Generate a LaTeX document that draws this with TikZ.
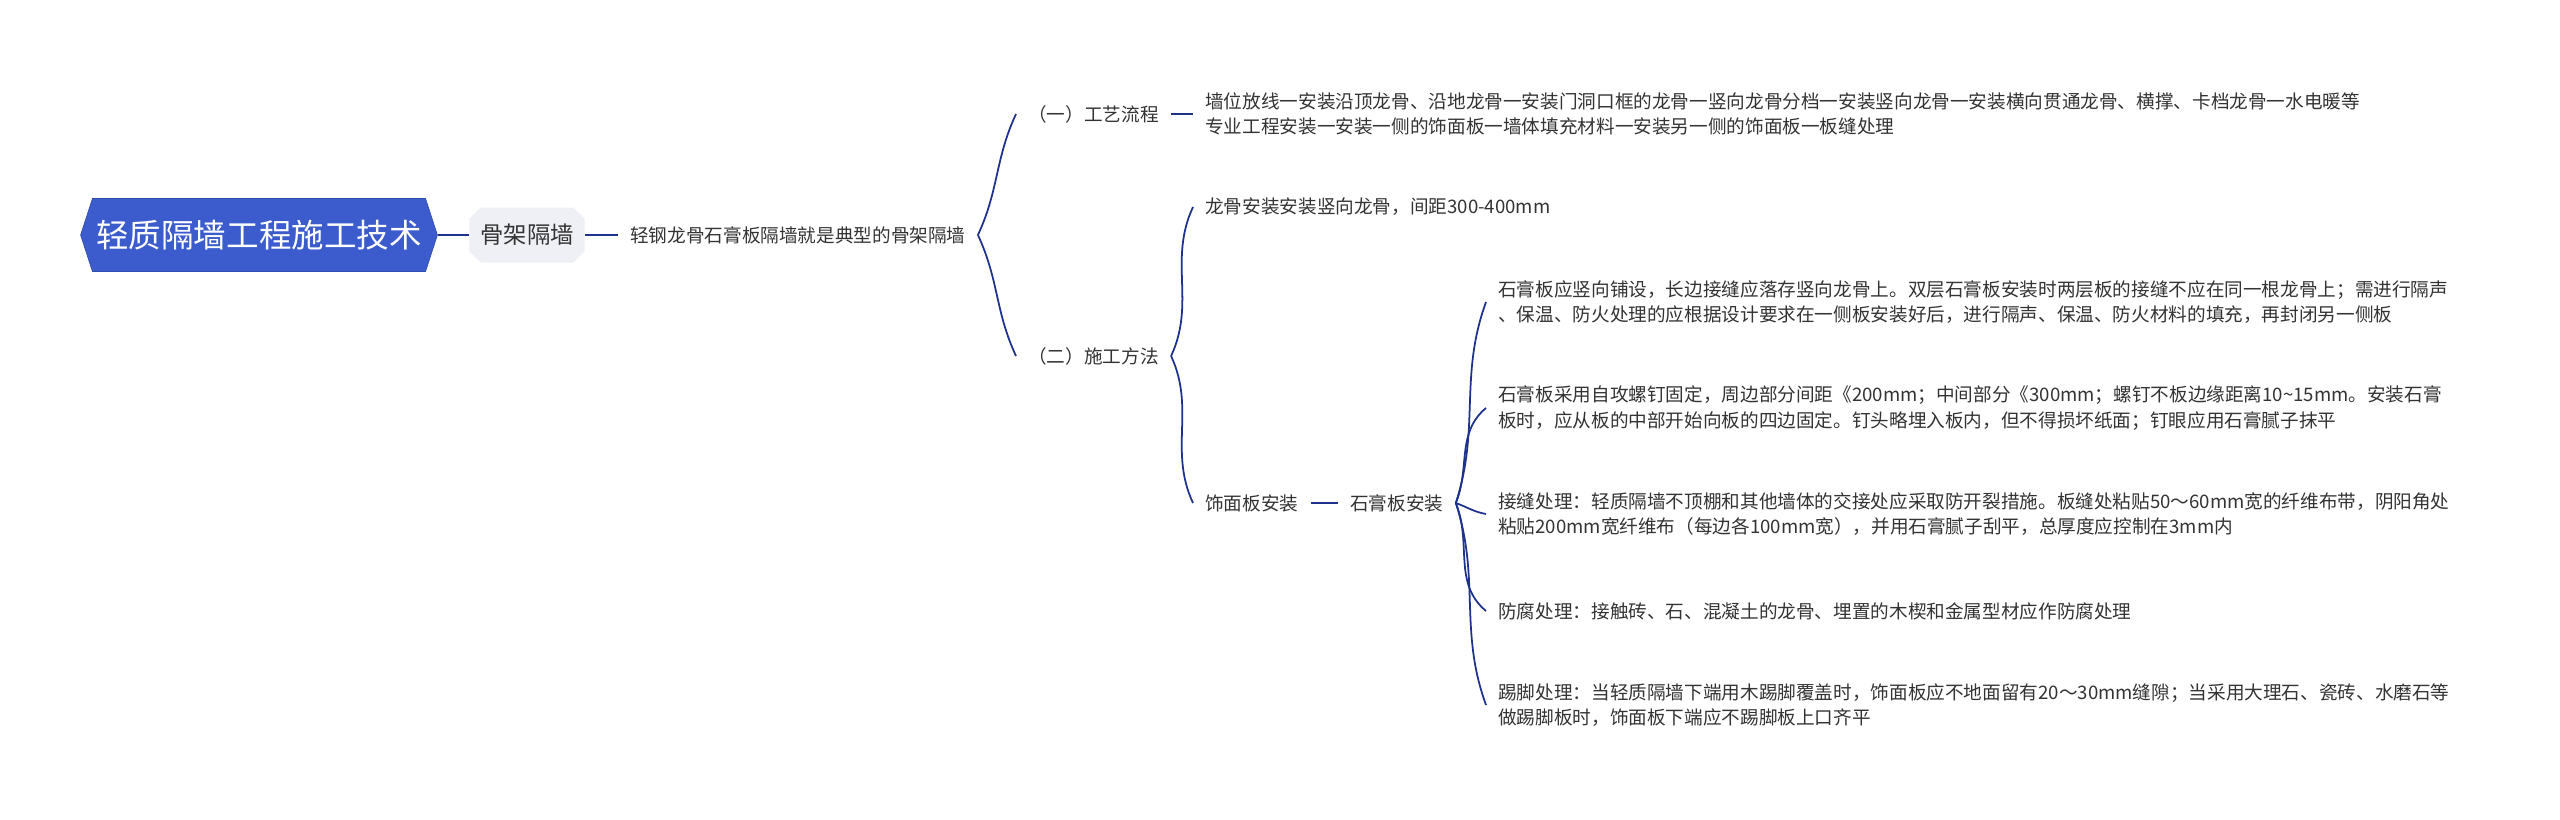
\documentclass[tikz,border=0pt]{standalone}
\usepackage{fontspec}
\setmainfont{Noto Sans CJK SC}
\usepackage{tikz}
\usetikzlibrary{shapes.symbols,shapes.misc}
\definecolor{rootblue}{RGB}{60,92,205}
\definecolor{linkblue}{RGB}{30,50,140}
\definecolor{topicgray}{RGB}{238,240,245}
\definecolor{txtgray}{RGB}{51,51,51}

\begin{document}
\begin{tikzpicture}[x=0.02cm, y=-0.02cm,
    link/.style={linkblue, line width=1pt},
    txt/.style={anchor=west, inner xsep=0.24cm, inner ysep=0.05cm, text=txtgray, align=left, font=\fontsize{10.6}{14.6}\selectfont}]
    \useasboundingbox (0,0) rectangle (2560,819);
    \node[signal, signal to=west and east, signal pointer angle=144, fill=rootblue, draw=rootblue!85!black, line width=0.4pt, text=white, minimum height=1.46cm, inner xsep=0.08cm, font=\fontsize{18.5}{22}\selectfont] (root) at (259,235) {轻质隔墙工程施工技术};
    \node[chamfered rectangle, chamfered rectangle xsep=0.1cm, fill=topicgray, text=txtgray, minimum height=1.1cm, inner xsep=0.12cm, font=\fontsize{13.3}{16}\selectfont] (gujia) at (527,235) {骨架隔墙};
    \node[txt] (desc) at (618,235) {轻钢龙骨石膏板隔墙就是典型的骨架隔墙};
    \node[txt] (gy) at (1016,114) {（一）工艺流程};
    \node[txt] (flow) at (1193,114) {墙位放线一安装沿顶龙骨、沿地龙骨一安装门洞口框的龙骨一竖向龙骨分档一安装竖向龙骨一安装横向贯通龙骨、横撑、卡档龙骨一水电暖等\\专业工程安装一安装一侧的饰面板一墙体填充材料一安装另一侧的饰面板一板缝处理};
    \node[txt] (sg) at (1016,356) {（二）施工方法};
    \node[txt] (lg) at (1193,207) {龙骨安装安装竖向龙骨，间距300-400mm};
    \node[txt] (sm) at (1193,503) {饰面板安装};
    \node[txt] (sgb) at (1338,503) {石膏板安装};
    \node[txt] (c1) at (1486,302) {石膏板应竖向铺设，长边接缝应落存竖向龙骨上。双层石膏板安装时两层板的接缝不应在同一根龙骨上；需进行隔声\\、保温、防火处理的应根据设计要求在一侧板安装好后，进行隔声、保温、防火材料的填充，再封闭另一侧板};
    \node[txt] (c2) at (1486,408) {石膏板采用自攻螺钉固定，周边部分间距《200mm；中间部分《300mm；螺钉不板边缘距离10\textasciitilde15mm。安装石膏\\板时，应从板的中部开始向板的四边固定。钉头略埋入板内，但不得损坏纸面；钉眼应用石膏腻子抹平};
    \node[txt] (c3) at (1486,514) {接缝处理：轻质隔墙不顶棚和其他墙体的交接处应采取防开裂措施。板缝处粘贴50～60mm宽的纤维布带，阴阳角处\\粘贴200mm宽纤维布（每边各100mm宽），并用石膏腻子刮平，总厚度应控制在3mm内};
    \node[txt] (c4) at (1486,611) {防腐处理：接触砖、石、混凝土的龙骨、埋置的木楔和金属型材应作防腐处理};
    \node[txt] (c5) at (1486,705) {踢脚处理：当轻质隔墙下端用木踢脚覆盖时，饰面板应不地面留有20～30mm缝隙；当采用大理石、瓷砖、水磨石等\\做踢脚板时，饰面板下端应不踢脚板上口齐平};
    \draw[link] (root.east) -- (gujia.west);
    \draw[link] (gujia.east) -- (desc.west);
    \draw[link] (desc.east) to[out=65,in=245] (gy.west);
    \draw[link] (desc.east) to[out=-65,in=115] (sg.west);
    \draw[link] (gy.east) -- (flow.west);
    \draw[link] (sg.east) to[out=65,in=245] (lg.west);
    \draw[link] (sg.east) to[out=-65,in=115] (sm.west);
    \draw[link] (sm.east) -- (sgb.west);
    \draw[link] (sgb.east) to[out=72,in=250] (c1.west);
    \draw[link] (sgb.east) to[out=68,in=220] (c2.west);
    \draw[link] (sgb.east) to[out=-20,in=170] (c3.west);
    \draw[link] (sgb.east) to[out=-68,in=140] (c4.west);
    \draw[link] (sgb.east) to[out=-72,in=110] (c5.west);
\end{tikzpicture}
\end{document}
